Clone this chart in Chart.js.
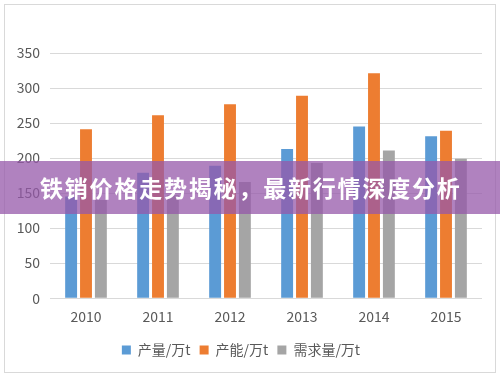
<!DOCTYPE html>
<html>
<head>
<meta charset="utf-8">
<script src="https://cdn.jsdelivr.net/npm/chart.js@4/dist/chart.umd.min.js"></script>
<style>
    body { margin: 0; background: #fff; }
    #wrap { position: relative; width: 500px; height: 377px; }
    #frame { position: absolute; left: 4px; top: 4px; width: 490px; height: 367px; border: 1px solid #d9d9d9; }
    #mc { position: absolute; left: 0; top: 0; }
    #banner {
        position: absolute; left: 0; top: 161px; width: 500px; height: 53px;
        background: rgba(150, 88, 170, 0.75);
        color: #fff; font: bold 23px "Noto Sans CJK SC", sans-serif;
        line-height: 53px; padding-left: 40px; box-sizing: border-box;
        letter-spacing: 1.8px;
    }
</style>
</head>
<body>
<div id="wrap">
    <div id="frame"></div>
    <canvas id="mc" width="500" height="377"></canvas>
    <div id="banner">铁销价格走势揭秘，最新行情深度分析</div>
</div>
<script>
const years = ['2010', '2011', '2012', '2013', '2014', '2015'];
const output = [145, 179, 189, 213, 245, 231];
const capacity = [241, 261, 277, 289, 321, 239];
const demand = [140, 147, 166, 193, 211, 199];

const ctx = document.getElementById('mc');
const font = '"Noto Sans CJK SC", sans-serif';

const data = {
    labels: years,
    datasets: [
        { label: '产量/万t', data: output, backgroundColor: '#5b9bd5' },
        { label: '产能/万t', data: capacity, backgroundColor: '#ed7d31' },
        { label: '需求量/万t', data: demand, backgroundColor: '#a5a5a5' }
    ]
};

const config = {
    type: 'bar',
    data: data,
    options: {
        responsive: false,
        animation: false,
        layout: { padding: { top: 53, right: 18, left: 0, bottom: 10 } },
        datasets: { bar: { categoryPercentage: 0.62, barPercentage: 0.8 } },
        scales: {
            x: {
                grid: { display: false },
                border: { display: false },
                ticks: { color: '#595959', font: { family: font, size: 14 }, padding: 2 },
                afterFit: s => { s.height += 7; }
            },
            y: {
                min: 0, max: 350,
                ticks: { stepSize: 50, color: '#595959', font: { family: font, size: 14 }, padding: 10 },
                grid: { color: '#d9d9d9', drawTicks: false },
                border: { display: false },
                afterFit: s => { s.width = 50; }
            }
        },
        plugins: {
            legend: {
                position: 'bottom',
                labels: {
                    boxWidth: 9, boxHeight: 9, padding: 9,
                    color: '#595959', font: { family: font, size: 14 }
                }
            },
            tooltip: { enabled: false }
        }
    }
};

new Chart(ctx, config);
</script>
</body>
</html>
